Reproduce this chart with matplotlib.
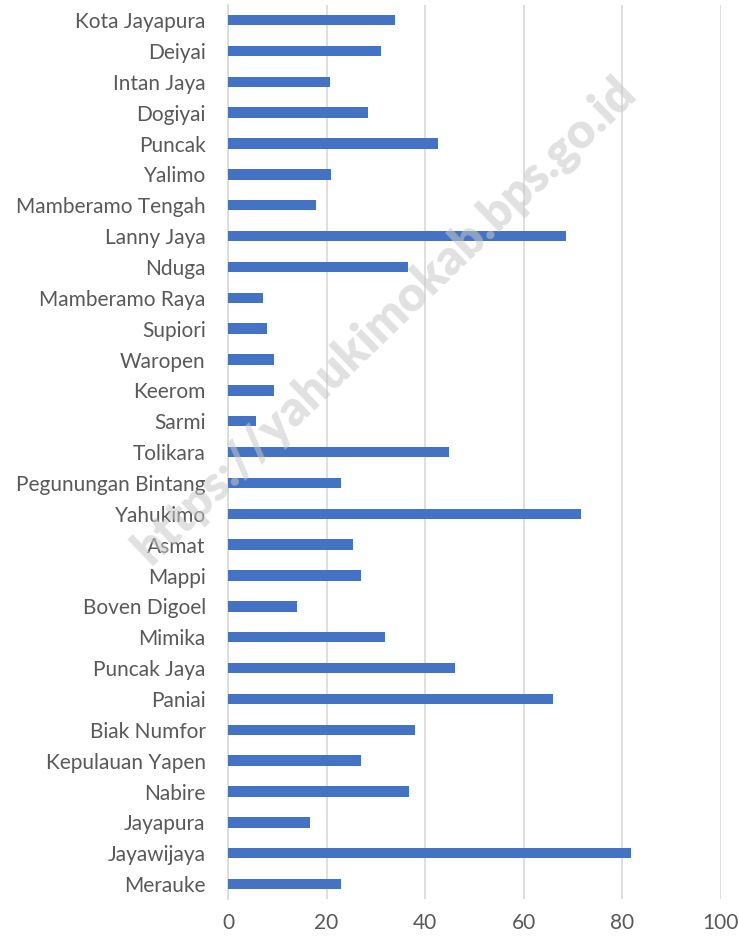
import numpy as np
import matplotlib.pyplot as plt

# kabupaten/kota, bottom to top as drawn
regions = ['Merauke', 'Jayawijaya', 'Jayapura', 'Nabire', 'Kepulauan Yapen',
           'Biak Numfor', 'Paniai', 'Puncak Jaya', 'Mimika', 'Boven Digoel',
           'Mappi', 'Asmat', 'Yahukimo', 'Pegunungan Bintang', 'Tolikara',
           'Sarmi', 'Keerom', 'Waropen', 'Supiori', 'Mamberamo Raya',
           'Nduga', 'Lanny Jaya', 'Mamberamo Tengah', 'Yalimo', 'Puncak',
           'Dogiyai', 'Intan Jaya', 'Deiyai', 'Kota Jayapura']
values = [22.9, 81.7, 16.6, 36.8, 27.0,
          37.9, 65.9, 46.0, 31.9, 14.0,
          27.0, 25.3, 71.7, 22.9, 44.8,
          5.6, 9.4, 9.4, 8.0, 7.1,
          36.5, 68.5, 17.8, 20.9, 42.6,
          28.4, 20.6, 31.0, 33.9]
xticks = [0, 20, 40, 60, 80, 100]

plt.rcParams['font.family'] = ['Lato', 'DejaVu Sans']

fig = plt.figure(figsize=(7.39, 9.36), dpi=100)
ax = fig.add_axes([0.3085, 0.039, 0.667, 0.956])

y = np.arange(len(regions))
ax.barh(y, values, height=0.34, color='#4472C4', zorder=3)

ax.set_xlim(0, 100)
ax.set_ylim(-0.5, len(regions) - 0.5)
ax.set_yticks(y)
ax.set_yticklabels(regions)
ax.set_xticks(xticks)
ax.grid(axis='x', color='#D9D9D9', linewidth=1.2, zorder=0)
ax.tick_params(axis='both', length=0, labelsize=15, colors='#595959')
ax.tick_params(axis='y', pad=16)
ax.tick_params(axis='x', pad=10)
for s in ['top', 'right', 'bottom']:
    ax.spines[s].set_visible(False)
ax.spines['left'].set_color('#D9D9D9')
ax.spines['left'].set_linewidth(1.2)

# watermark
fig.text(0.52, 0.658, 'https://yahukimokab.bps.go.id', rotation=44,
         ha='center', va='center', fontsize=35, fontweight='heavy',
         color='#C8C8C8', alpha=0.55, zorder=10)

fig.savefig('out.png', dpi=100)
